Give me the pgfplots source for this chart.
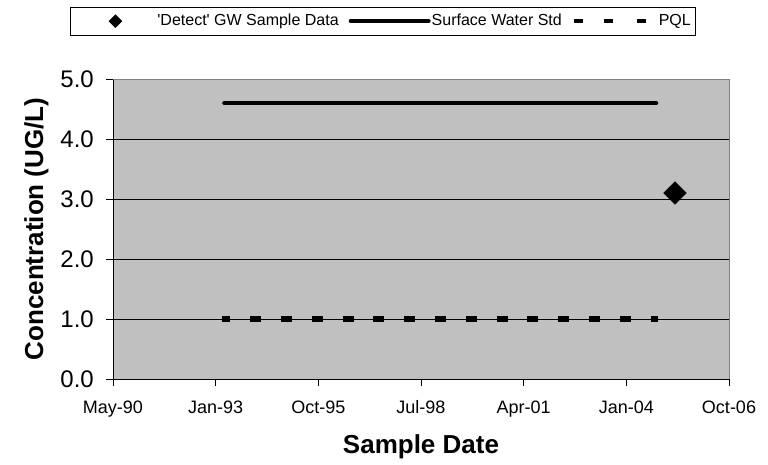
\documentclass[border=0pt]{standalone}
\usepackage{pgfplots}
\pgfplotsset{compat=1.18}
\usepackage{fontspec}
\setmainfont{Liberation Sans}
\definecolor{plotbg}{HTML}{C0C0C0}
\definecolor{framegray}{HTML}{808080}
\pgfplotsset{
  legdiamond/.style={legend image code/.code={\path[draw=none,fill=none] (0pt,-3pt) rectangle (82pt,3pt); \draw[##1, mark size=4.4pt] plot coordinates {(41pt,0pt)};}},
  legsolid/.style={legend image code/.code={\path[draw=none,fill=none] (0pt,-3pt) rectangle (82pt,3pt); \draw[##1, line width=4pt] (2pt,0pt) -- (80pt,0pt);}},
  legdash/.style={legend image code/.code={\path[draw=none,fill=none] (0pt,-3pt) rectangle (82pt,3pt); \draw[##1, line width=4pt, dash pattern=on 9pt off 21pt on 9pt off 24pt on 9pt off 40pt, dash phase=0pt] (0pt,0pt) -- (82pt,0pt);}},
}
\begin{document}
\begin{tikzpicture}[x=1pt,y=1pt]
\useasboundingbox (0,0) rectangle (768,464);
\begin{axis}[
  at={(113pt,85pt)}, anchor=south west,
  scale only axis, width=616pt, height=300pt,
  xmin=33000, xmax=39000, ymin=0, ymax=5,
  axis lines*=left,
  axis line style={black, line width=1pt},
  axis background/.style={fill=plotbg},
  /pgf/number format/assume math mode=true,
  xtick={33000,34000,35000,36000,37000,38000,39000},
  xticklabels={May-90,Jan-93,Oct-95,Jul-98,Apr-01,Jan-04,Oct-06},
  ytick={0,1,2,3,4,5},
  yticklabel style={/pgf/number format/fixed, /pgf/number format/precision=1, /pgf/number format/fixed zerofill, font=\fontsize{24}{28}\selectfont, inner sep=0pt, xshift=-12pt},
  xticklabel style={font=\fontsize{18}{21}\selectfont, inner sep=0pt, anchor=base, yshift=-27pt},
  scaled x ticks=false,
  tick align=outside, major tick length=7pt,
  tick style={black, line width=1pt},
  ymajorgrids, grid style={black, line width=0.8pt},
  xlabel={Sample Date},
  ylabel={Concentration (UG/L)},
  label style={font=\bfseries\fontsize{26}{30}\selectfont},
  xlabel style={at={(axis description cs:0.5,-0.2467)}, anchor=base},
  ylabel style={at={(axis description cs:-0.1136,0.5)}, anchor=base},
  legend columns=3,
  legend style={at={(-0.0698,1.24)}, anchor=north west, draw=black, line width=0.8pt,
    inner xsep=4pt, inner ysep=2pt, column sep=0pt,
    font=\fontsize{16}{19}\selectfont,
    nodes={inner xsep=1pt, inner ysep=4pt, text height=12pt, text depth=3.5pt},
    /tikz/every even column/.append style={column sep=9pt}},
  after end axis/.code={\draw[framegray, line width=1pt] (rel axis cs:0,1) -- (rel axis cs:1,1) -- (rel axis cs:1,0);},
]
\addplot[only marks, mark=square*, mark size=8pt, mark options={rotate=45, fill=black, draw=black}, legdiamond]
  coordinates {(38474,3.1)};
\addlegendentry{{\textquotesingle}Detect{\textquotesingle} GW Sample Data}
\addplot[black, line width=4.3pt, line cap=round, legsolid]
  coordinates {(34085,4.6) (38290,4.6)};
\addlegendentry{Surface Water Std}
\addplot[black, line width=6pt, line cap=butt, dash pattern=on 11pt off 19.8pt, dash phase=3pt, legdash]
  coordinates {(34065,1) (38305,1)};
\addlegendentry{PQL}
\end{axis}
\end{tikzpicture}
\end{document}
